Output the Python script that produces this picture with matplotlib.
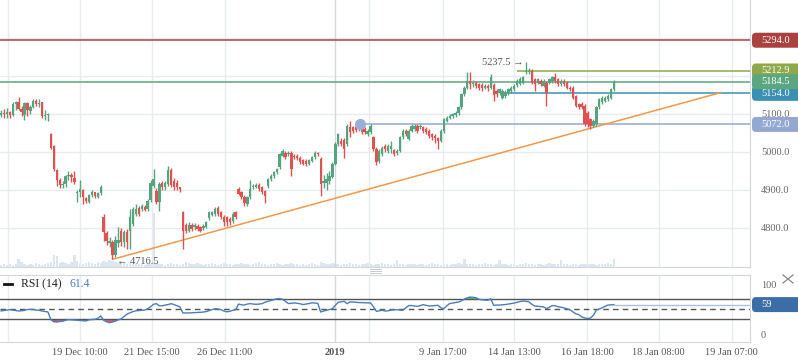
import numpy as np
import matplotlib
matplotlib.use("Agg")
import matplotlib.pyplot as plt
from matplotlib.patches import FancyBboxPatch
from matplotlib.lines import Line2D
from matplotlib.transforms import IdentityTransform

plt.rcParams["font.family"] = ["Liberation Serif", "DejaVu Serif"]

# ---------------------------------------------------------------- DATA
opens = [
    5098, 5103, 5100, 5104, 5098, 5125, 5132, 5112, 5098, 5128,
    5108, 5118, 5135, 5125, 5130, 5094, 5097, 5046, 5014, 4952,
    4925, 4912, 4915, 4935, 4938, 4930, 4891, 4893, 4898, 4878,
    4868, 4885, 4893, 4882, 4892, 4827, 4785, 4759, 4761, 4729,
    4759, 4792, 4761, 4788, 4792, 4810, 4836, 4853, 4849, 4855,
    4849, 4873, 4911, 4897, 4867, 4917, 4906, 4915, 4952, 4924,
    4919, 4906, 4840, 4808, 4792, 4808, 4801, 4805, 4801, 4799,
    4803, 4825, 4834, 4836, 4853, 4840, 4829, 4827, 4823, 4817,
    4840, 4902, 4893, 4882, 4862, 4880, 4906, 4908, 4913, 4906,
    4896, 4910, 4928, 4937, 4946, 4959, 4990, 4998, 4994, 4998,
    4990, 4990, 4983, 4978, 4976, 4969, 4976, 4985, 4998, 4981,
    4919, 4919, 4924, 4934, 4968, 5020, 5029, 5031, 5020, 5066,
    5064, 5066, 5060, 5064, 5060, 5048, 5051, 5038, 5007, 4975,
    4994, 5016, 5003, 5007, 5004, 4998, 5003, 5038, 5055, 5033,
    5055, 5060, 5068, 5064, 5064, 5060, 5055, 5046, 5042, 5035,
    5029, 5055, 5082, 5090, 5095, 5096, 5102, 5117, 5152, 5169,
    5187, 5178, 5182, 5178, 5175, 5169, 5174, 5169, 5175, 5160,
    5156, 5143, 5147, 5156, 5160, 5165, 5175, 5178, 5182, 5209,
    5209, 5213, 5191, 5182, 5187, 5174, 5182, 5182, 5187, 5196,
    5191, 5178, 5187, 5182, 5169, 5169, 5147, 5125, 5125, 5121,
    5103, 5086, 5068, 5073, 5117, 5130, 5134, 5139, 5143, 5165,
]
highs = [
    5110, 5112, 5115, 5108, 5130, 5135, 5145, 5120, 5130, 5132,
    5122, 5140, 5140, 5138, 5132, 5110, 5102, 5050, 5018, 4955,
    4932, 4922, 4940, 4950, 4945, 4950, 4900, 4926, 4902, 4882,
    4890, 4898, 4895, 4895, 4912, 4836, 4790, 4775, 4768, 4778,
    4801, 4800, 4795, 4797, 4849, 4855, 4862, 4858, 4862, 4860,
    4875, 4925, 4954, 4905, 4920, 4922, 4922, 4963, 4958, 4930,
    4925, 4908, 4845, 4812, 4815, 4812, 4812, 4810, 4805, 4810,
    4818, 4845, 4845, 4855, 4858, 4845, 4834, 4830, 4827, 4842,
    4845, 4906, 4897, 4886, 4884, 4925, 4915, 4919, 4917, 4910,
    4900, 4932, 4941, 4950, 4958, 4998, 5008, 5003, 5002, 5003,
    4994, 4994, 4988, 4982, 4980, 4982, 4990, 5002, 5000, 4985,
    4940, 4945, 4950, 4972, 5025, 5050, 5035, 5035, 5072, 5082,
    5068, 5070, 5070, 5068, 5064, 5060, 5072, 5042, 5012, 5007,
    5015, 5020, 5020, 5029, 5008, 5007, 5042, 5060, 5060, 5060,
    5072, 5073, 5072, 5072, 5068, 5064, 5060, 5050, 5046, 5040,
    5060, 5090, 5095, 5099, 5103, 5107, 5121, 5156, 5173, 5209,
    5209, 5190, 5186, 5182, 5180, 5178, 5178, 5204, 5180, 5165,
    5169, 5165, 5162, 5169, 5173, 5178, 5191, 5196, 5200, 5237.5,
    5220, 5218, 5195, 5195, 5191, 5191, 5186, 5195, 5200, 5207,
    5195, 5191, 5191, 5186, 5173, 5173, 5150, 5128, 5130, 5125,
    5107, 5090, 5086, 5121, 5143, 5147, 5147, 5152, 5169, 5190,
]
lows = [
    5092, 5090, 5088, 5088, 5095, 5110, 5110, 5095, 5085, 5095,
    5100, 5115, 5120, 5118, 5090, 5085, 5080, 5008, 4948, 4910,
    4905, 4905, 4908, 4925, 4920, 4915, 4867, 4880, 4862, 4865,
    4865, 4880, 4878, 4878, 4885, 4764, 4755, 4750, 4716.5, 4722,
    4748, 4752, 4750, 4744, 4744, 4805, 4830, 4830, 4845, 4843,
    4845, 4868, 4905, 4862, 4845, 4900, 4900, 4910, 4908, 4900,
    4900, 4893, 4744, 4785, 4788, 4792, 4795, 4792, 4788, 4795,
    4800, 4820, 4830, 4832, 4830, 4822, 4805, 4805, 4808, 4812,
    4822, 4885, 4875, 4858, 4856, 4876, 4902, 4905, 4897, 4888,
    4866, 4905, 4922, 4932, 4942, 4954, 4985, 4982, 4990, 4937,
    4980, 4978, 4968, 4965, 4963, 4965, 4972, 4982, 4990, 4884,
    4905, 4900, 4915, 4930, 4965, 5015, 5015, 4983, 5015, 5038,
    5050, 5052, 5055, 5048, 5046, 5042, 5046, 5003, 4965, 4970,
    4990, 5000, 4998, 4998, 4990, 4991, 5000, 5034, 5042, 5030,
    5051, 5055, 5050, 5060, 5050, 5048, 5036, 5032, 5023, 5007,
    5025, 5050, 5078, 5086, 5090, 5092, 5098, 5112, 5148, 5165,
    5165, 5172, 5168, 5162, 5160, 5165, 5160, 5165, 5134, 5145,
    5150, 5138, 5142, 5150, 5156, 5160, 5170, 5175, 5178, 5205,
    5205, 5178, 5160, 5178, 5174, 5170, 5121, 5178, 5182, 5182,
    5174, 5174, 5174, 5165, 5160, 5138, 5117, 5112, 5112, 5068,
    5066, 5060, 5064, 5068, 5112, 5125, 5130, 5134, 5138, 5160,
]
closes = [
    5103, 5100, 5104, 5098, 5125, 5130, 5112, 5105, 5128, 5110,
    5118, 5135, 5125, 5128, 5095, 5098, 5100, 5011, 4955, 4925,
    4912, 4915, 4935, 4938, 4933, 4920, 4895, 4902, 4880, 4870,
    4885, 4893, 4883, 4892, 4908, 4788, 4764, 4764, 4729, 4768,
    4768, 4761, 4788, 4761, 4827, 4849, 4849, 4836, 4858, 4847,
    4871, 4919, 4928, 4867, 4915, 4906, 4917, 4952, 4913, 4906,
    4906, 4902, 4792, 4792, 4808, 4797, 4808, 4797, 4792, 4805,
    4814, 4840, 4840, 4849, 4836, 4827, 4814, 4814, 4814, 4836,
    4827, 4890, 4880, 4864, 4880, 4902, 4911, 4913, 4902, 4893,
    4884, 4928, 4937, 4946, 4954, 4994, 5003, 4987, 4998, 4954,
    4985, 4983, 4972, 4969, 4968, 4978, 4985, 4998, 4994, 4915,
    4924, 4928, 4937, 4968, 5020, 5046, 5020, 5007, 5068, 5051,
    5055, 5057, 5066, 5053, 5051, 5055, 5068, 5007, 4972, 5003,
    5011, 5007, 5016, 5016, 4994, 5003, 5038, 5055, 5046, 5055,
    5068, 5068, 5055, 5068, 5055, 5053, 5042, 5038, 5035, 5029,
    5055, 5086, 5090, 5095, 5099, 5103, 5117, 5152, 5169, 5187,
    5178, 5182, 5174, 5169, 5167, 5174, 5167, 5196, 5150, 5152,
    5165, 5160, 5158, 5165, 5169, 5174, 5187, 5191, 5196, 5213,
    5213, 5182, 5178, 5191, 5178, 5187, 5156, 5191, 5196, 5187,
    5178, 5187, 5178, 5169, 5165, 5143, 5121, 5117, 5117, 5073,
    5073, 5068, 5082, 5117, 5139, 5143, 5143, 5147, 5165, 5184.5,
]
volumes = [
    2, 3, 2, 3, 2, 3, 8, 5, 3, 2,
    3, 2, 4, 3, 2, 3, 4, 5, 12, 11,
    4, 5, 4, 3, 5, 12, 6, 4, 3, 4,
    5, 4, 3, 5, 4, 6, 5, 7, 6, 5,
    4, 5, 4, 3, 4, 3, 4, 3, 3, 2,
    3, 3, 54, 4, 3, 3, 2, 3, 4, 3,
    3, 2, 3, 5, 4, 3, 3, 4, 3, 2,
    3, 3, 4, 3, 2, 3, 4, 3, 3, 2,
    3, 3, 4, 3, 3, 2, 3, 4, 5, 3,
    3, 2, 3, 3, 4, 3, 2, 3, 3, 4,
    3, 3, 2, 3, 2, 3, 4, 3, 2, 5,
    4, 3, 3, 4, 3, 3, 2, 3, 3, 4,
    3, 3, 2, 3, 3, 4, 3, 2, 3, 3,
    4, 3, 3, 2, 3, 7, 3, 3, 2, 3,
    3, 3, 2, 3, 3, 2, 3, 4, 3, 3,
    2, 3, 3, 2, 3, 3, 4, 3, 8, 3,
    3, 3, 2, 3, 3, 4, 3, 3, 2, 3,
    7, 3, 3, 2, 3, 3, 2, 3, 3, 4,
    3, 3, 2, 3, 3, 2, 3, 4, 3, 3,
    3, 7, 3, 3, 2, 3, 3, 2, 3, 3,
    3, 3, 3, 2, 3, 3, 3, 4, 3, 8,
]
rsi = [
    46.7, 47.5, 48.5, 49.3, 48.5, 47.5, 46.7, 47, 48, 49.5,
    50, 49.5, 48.5, 48, 46.5, 45.5, 44.7, 29.3, 25, 24.5,
    25.5, 26, 28, 29.3, 29, 28.5, 28, 27.5, 27, 26.7,
    29, 29.5, 30, 32, 36.7, 28, 25, 23.3, 24.5, 26.5,
    29, 31, 36, 40.5, 43, 45.5, 47, 47.5, 48, 48.5,
    51, 55, 60, 61.3, 57, 57, 58.5, 59.5, 61.3, 59.5,
    57, 55, 42.7, 42.7, 42.7, 43, 43.3, 43.5, 44, 44.5,
    45.5, 47.5, 49.5, 51.3, 50.5, 49.3, 46.5, 45, 46, 48,
    49, 60.5, 59, 58.5, 60.5, 61.3, 60.5, 60, 60.5, 61.3,
    64, 66, 67.5, 69, 71, 71.3, 70, 66, 61.5, 62,
    62.7, 62, 61, 59.5, 60.5, 61.5, 63, 62.5, 62, 44.7,
    46.5, 48, 49.5, 51.3, 58, 64, 65, 66, 61.3, 64.7,
    64.5, 64, 63.5, 63.3, 63, 63, 62.7, 55, 46, 47,
    48, 46.5, 47, 48.5, 49, 49.3, 48.5, 48, 53, 57.5,
    57.5, 56.5, 56, 57.5, 59.3, 58, 56.5, 57, 57.5, 58,
    53, 51.3, 57, 61.5, 62.5, 63.5, 64.5, 67, 70.5, 73,
    74.5, 74, 73, 70, 69, 68.5, 68, 71, 58, 58.5,
    58.5, 59, 59.5, 60.5, 61.5, 62.5, 64, 65.5, 66.7, 66,
    65, 60, 56.5, 56, 55.5, 54.7, 51.3, 54.5, 57.5, 57,
    55, 54, 52.7, 51, 49, 45, 41, 39.5, 35, 32.7,
    31.5, 32.5, 38, 48.5, 50.5, 53, 56, 58.5, 59, 59.4,
]

tick_labels = ["19 Dec 10:00", "21 Dec 15:00", "26 Dec 11:00", "2019", "9 Jan 17:00",
               "14 Jan 13:00", "16 Jan 18:00", "18 Jan 08:00", "19 Jan 07:00"]
tick_pos = [26.9, 51.5, 76.4, 113.9, 150.7, 174.9, 199.8, 224.3, 249.2]
extra_grid = [2.4, 125.5]

# horizontal levels: value, colour, first bar index (None = whole width)
level_vals = [5294.0, 5212.9, 5154.0, 5184.5, 5072.0]
level_cols = ["#a9413f", "#8ea94a", "#3a8fb2", "#5aa77f", "#93a9d2"]
level_from = [None, 175.9, 172.5, None, 122.4]
trend_pts = [(38, 4716.5), (245.4, 5156.0)]
rsi_last_label = "59"
rsi_header = "61.4"

# ---------------------------------------------------------------- LAYOUT
W, H = 798, 363
fig = plt.figure(figsize=(W / 100, H / 100), dpi=100)
fig.patch.set_facecolor("white")

x = np.arange(len(closes))
o, h, l, c = map(np.array, (opens, highs, lows, closes))
xlim = (-0.35, 255.4)
grid_c = "#e8ebef"
spine_c = "#d3d7dc"

def fx(px):
    return px / W

def fy(py):
    return 1 - py / H

vol_ax = fig.add_axes([0, fy(267), fx(750), 60 / H])
ax = fig.add_axes([0, fy(267), fx(750), 267 / H])
rax = fig.add_axes([0, fy(342), fx(750), 67 / H])

# volume
vol_ax.bar(x, volumes, width=0.8, color="#dce6f0", lw=0)
vol_ax.set_xlim(xlim); vol_ax.set_ylim(0, 60); vol_ax.axis("off")

# main price pane
ax.set_facecolor("none")
ax.set_xlim(xlim); ax.set_ylim(4696.3, 5400)
for p in range(4800, 5400, 100):
    ax.axhline(p, color=grid_c, lw=1, zorder=0)
for t in tick_pos + extra_grid:
    ax.axvline(t, color="#d5d9de" if t == tick_pos[3] else grid_c, lw=1, zorder=0)

up = c >= o
col = np.where(up, "#55a47d", "#e0524f")
ax.vlines(x, l, h, colors=col, lw=1.0, zorder=3)
body_h = np.maximum(np.abs(c - o), 1.3)
ax.bar(x, body_h, bottom=np.minimum(o, c), width=0.8, color=col, lw=0, zorder=4)

for v, colr, start in zip(level_vals, level_cols, level_from):
    x0 = xlim[0] if start is None else start
    ax.plot([x0, xlim[1]], [v, v], color=colr, lw=1.1, zorder=2, solid_capstyle="butt")
ax.plot(level_from[4], level_vals[4], "o", ms=7, color="#9aafd6", zorder=5)
(tx0, ty0), (tx1, ty1) = trend_pts
ax.plot([tx0, tx1], [ty0, ty1], color="#f0994a", lw=1.1, zorder=2)

ax.text(39.6, 4712, "\u2190 4716.5", fontsize=7.5, color="#555", va="center", ha="left")
ax.text(178.3, 5234, "5237.5 \u2192", fontsize=7.5, color="#555", va="center", ha="right")

ax.yaxis.tick_right()
ax.set_yticks(range(4800, 5400, 100))
ax.set_yticklabels([f"{p:.1f}" for p in range(4800, 5400, 100)])
ax.tick_params(axis="y", length=0, pad=8, labelsize=7.5, labelcolor="#666")
ax.set_xticks([])
for s in ("top", "left"):
    ax.spines[s].set_visible(False)
for s in ("bottom", "right"):
    ax.spines[s].set_color(spine_c)

# RSI pane
rsi_a = np.array(rsi)
rax.set_xlim(xlim); rax.set_ylim(-15.4, 118.6)
for t in tick_pos + extra_grid:
    rax.axvline(t, color="#d5d9de" if t == tick_pos[3] else grid_c, lw=1, zorder=0)
rax.axhline(70, color="#555", lw=1)
rax.axhline(30, color="#555", lw=1)
rax.axhline(50, color="#555", lw=1, ls=(0, (4, 3)))
rax.fill_between(x, rsi_a, 30, where=rsi_a < 30, interpolate=True, color="#e3605c", lw=0)
rax.fill_between(x, rsi_a, 70, where=rsi_a > 70, interpolate=True, color="#4fcf5a", lw=0)
rax.plot(x, rsi_a, color="#4a7dbf", lw=1, zorder=3)
rax.plot([x[-1], xlim[1]], [rsi_a[-1], rsi_a[-1]], color="#a9c2e2", lw=1, zorder=3)
rax.yaxis.tick_right()
rax.set_yticks([0, 100])
rax.set_yticklabels(["0", "100"])
rax.tick_params(axis="y", length=0, pad=8, labelsize=7.5, labelcolor="#666")
rax.set_xticks(tick_pos)
rax.set_xticklabels(tick_labels)
rax.tick_params(axis="x", length=0, pad=4, labelsize=7.5, labelcolor="#555")
rax.get_xticklabels()[3].set_fontweight("bold")
rax.spines["left"].set_visible(False)
for s in ("top", "bottom", "right"):
    rax.spines[s].set_color(spine_c)

# header + decorations
fig.add_artist(Line2D([fx(4), fx(12)], [fy(284), fy(284)], color="#111", lw=2))
fig.text(fx(21), fy(284), "RSI (14)", fontsize=8.5, color="#222", va="center")
fig.text(fx(69), fy(284), rsi_header, fontsize=8.5, color="#4a7dbf", va="center")
for yy in (268.7, 270.7, 272.7):
    fig.add_artist(Line2D([fx(370), fx(381)], [fy(yy), fy(yy)], color="#c9cdd3", lw=0.7))
fig.add_artist(Line2D([fx(783), fx(793)], [fy(275), fy(283)], color="#888", lw=0.9))
fig.add_artist(Line2D([fx(783), fx(793)], [fy(283), fy(275)], color="#888", lw=0.9))

# value boxes on the right (rounded left side, drawn in display pixels)
def value_box(axis, value, text, colr, z):
    ypx = axis.transData.transform((0, value))[1]
    hh = 7.5
    box = FancyBboxPatch((752, ypx - hh), 60, 2 * hh,
                         boxstyle="round,pad=0,rounding_size=4",
                         transform=IdentityTransform(), fc=colr, ec="none", zorder=z)
    fig.add_artist(box)
    fig.text(761 / W, ypx / H, text, color="white", fontsize=7.5,
             va="center", ha="left", zorder=z + 0.5)

for k, (v, colr) in enumerate(zip(level_vals, level_cols)):
    value_box(ax, v, f"{v:.1f}", colr, 5 + k)
value_box(rax, rsi_a[-1], rsi_last_label, "#3d6da7", 12)

fig.savefig("out.png", dpi=100)
